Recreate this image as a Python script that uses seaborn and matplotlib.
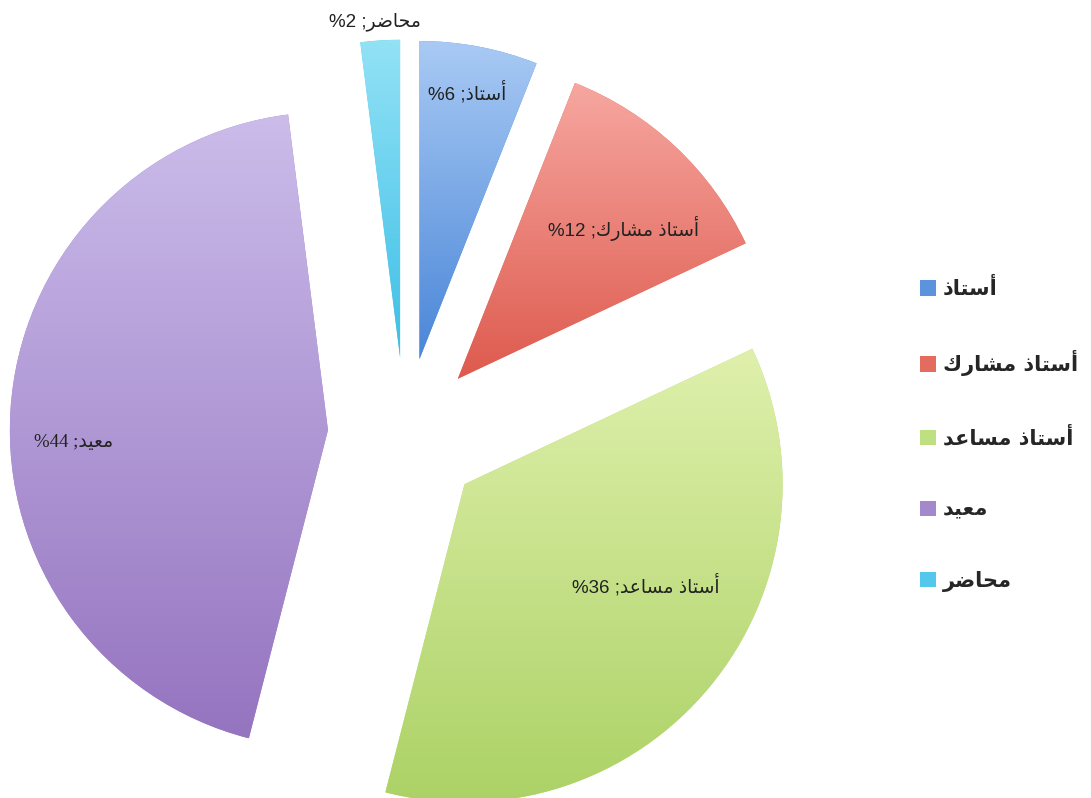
import numpy as np
import matplotlib
matplotlib.use("Agg")
import matplotlib.pyplot as plt
import matplotlib.colors as mcolors
from matplotlib.patches import Patch
import seaborn as sns

# data
categories = ["أستاذ", "أستاذ مشارك", "أستاذ مساعد", "معيد", "محاضر"]
percents = [6, 12, 36, 44, 2]

# gradient colours for each slice (top, bottom)
top_colors = ["#a9caf4", "#f6a7a0", "#dff0ac", "#cbbcea", "#93e2f6"]
bottom_colors = ["#4a86d8", "#de5a4e", "#acd266", "#9574c0", "#3cbfe6"]
legend_colors = ["#5b93dc", "#e56a60", "#bfe082", "#a488cc", "#52c8ec"]

# label placement (distance from slice tip, turn from bisector in degrees)
label_dist = [0.86, 0.71, 0.66, 0.81, 1.07]
label_turn = [0.7, -4.6, 10.5, 6.4, 0.7]

# arabic letter forms: isolated, final, initial, medial
FORMS = {
    "ا": ("\uFE8D", "\uFE8E", None, None),
    "أ": ("\uFE83", "\uFE84", None, None),
    "د": ("\uFEA9", "\uFEAA", None, None),
    "ذ": ("\uFEAB", "\uFEAC", None, None),
    "ر": ("\uFEAD", "\uFEAE", None, None),
    "س": ("\uFEB1", "\uFEB2", "\uFEB3", "\uFEB4"),
    "ش": ("\uFEB5", "\uFEB6", "\uFEB7", "\uFEB8"),
    "ت": ("\uFE95", "\uFE96", "\uFE97", "\uFE98"),
    "م": ("\uFEE1", "\uFEE2", "\uFEE3", "\uFEE4"),
    "ك": ("\uFED9", "\uFEDA", "\uFEDB", "\uFEDC"),
    "ع": ("\uFEC9", "\uFECA", "\uFECB", "\uFECC"),
    "ي": ("\uFEF1", "\uFEF2", "\uFEF3", "\uFEF4"),
    "ح": ("\uFEA1", "\uFEA2", "\uFEA3", "\uFEA4"),
    "ض": ("\uFEBD", "\uFEBE", "\uFEBF", "\uFEC0"),
}


def joins_left(c):
    return c in FORMS and FORMS[c][2] is not None


def arabic(text):
    out = []
    for i, c in enumerate(text):
        if c not in FORMS:
            out.append(c)
            continue
        prev = text[i - 1] if i > 0 else ""
        nxt = text[i + 1] if i + 1 < len(text) else ""
        p = joins_left(prev)
        n = joins_left(c) and nxt in FORMS
        f = FORMS[c]
        if p and n:
            out.append(f[3])
        elif p:
            out.append(f[1])
        elif n:
            out.append(f[2])
        else:
            out.append(f[0])
    return "".join(out)[::-1]


sns.set_style("white")
plt.rcParams["font.family"] = ["Liberation Sans", "DejaVu Sans"]

fig = plt.figure(figsize=(10.91, 7.98), dpi=100)
ax = fig.add_axes([0, 0, 1, 1])

wedges, _ = ax.pie(percents, startangle=90, counterclock=False,
                   explode=[0.245] * len(percents), radius=1.01,
                   colors=legend_colors, wedgeprops=dict(linewidth=0))

for i, w in enumerate(wedges):
    cx, cy = w.center
    th = np.radians(np.linspace(w.theta1, w.theta2, 100))
    xs = np.concatenate([[cx], cx + w.r * np.cos(th)])
    ys = np.concatenate([[cy], cy + w.r * np.sin(th)])
    c1 = np.array(mcolors.to_rgb(top_colors[i]))
    c2 = np.array(mcolors.to_rgb(bottom_colors[i]))
    t = np.linspace(0, 1, 256)[:, None]
    grad = (c1 * (1 - t) + c2 * t)[:, None, :]
    im = ax.imshow(grad, extent=[xs.min(), xs.max(), ys.min(), ys.max()],
                   origin="upper", aspect="auto", zorder=2)
    im.set_clip_path(w)

    mid = np.radians((w.theta1 + w.theta2) / 2 + label_turn[i])
    lx = cx + label_dist[i] * np.cos(mid)
    ly = cy + label_dist[i] * np.sin(mid)
    txt = "%" + str(percents[i]) + " ;" + arabic(categories[i])
    fam = ["Liberation Serif", "DejaVu Sans"] if i == 3 else ["Liberation Sans", "DejaVu Sans"]
    ax.text(lx, ly, txt, ha="center", va="center", fontsize=13.5,
            color="#222222", family=fam, zorder=5)

ax.set_xlim(-405 / 315, 686 / 315)
ax.set_ylim(-363 / 315, 435 / 315)
ax.axis("off")

handles = [Patch(facecolor=legend_colors[i], edgecolor="none") for i in range(len(categories))]
fig.legend(handles, [arabic(c) for c in categories], loc="center left",
           bbox_to_anchor=(0.826, 0.455), frameon=False,
           handlelength=0.75, handleheight=0.75, handletextpad=0.35,
           labelspacing=2.45, prop=dict(family="DejaVu Sans", weight="bold", size=15))

fig.savefig("out.png", dpi=100)
